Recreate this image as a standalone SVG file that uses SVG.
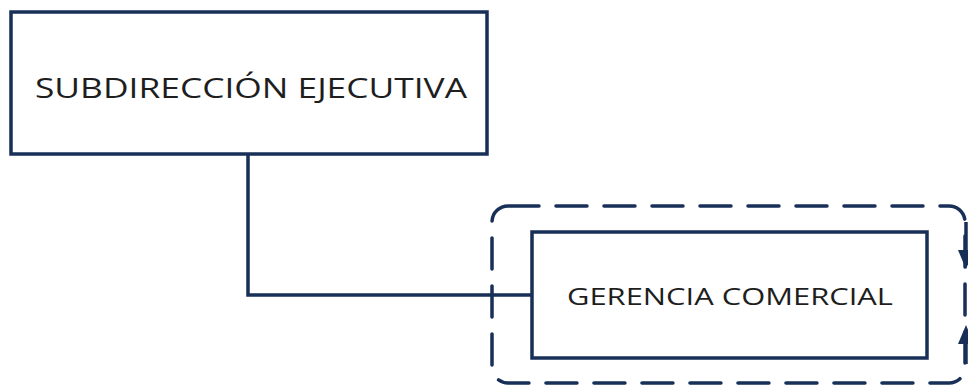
<svg xmlns="http://www.w3.org/2000/svg" width="968" height="387" viewBox="0 0 968 387">
  <style>
    .box { fill: #ffffff; stroke: #182f57; stroke-width: 3.5; }
    .conn { fill: none; stroke: #182f57; stroke-width: 3.5; }
    .dash { fill: none; stroke: #182f57; stroke-width: 3.5; stroke-dasharray: 31 17; stroke-linecap: round; }
    .head { fill: #182f57; }
    .lbl { font-family: "Open Sans", "Liberation Sans", sans-serif; fill: #1e1e1e; text-anchor: middle; }
  </style>
  <rect width="968" height="387" fill="#ffffff"/>
  <g id="connectors">
    <path class="conn" d="M248,154 V295 H532"/>
    <rect class="dash" x="492" y="206" width="473" height="177" rx="16" ry="16"/>
    <line class="conn" x1="966" y1="222" x2="966" y2="256"/>
    <polygon class="head" points="958,250 974,250 966,269"/>
    <line class="conn" x1="966" y1="364" x2="966" y2="336"/>
    <polygon class="head" points="958,344 974,344 966,325"/>
  </g>
  <g id="subdireccion">
    <rect class="box" x="11" y="12" width="476" height="142"/>
    <text class="lbl" x="251" y="98" font-size="27" textLength="432" lengthAdjust="spacingAndGlyphs">SUBDIRECCIÓN EJECUTIVA</text>
  </g>
  <g id="gerencia">
    <rect class="box" x="532" y="232" width="395" height="126"/>
    <text class="lbl" x="730" y="305" font-size="23" textLength="326" lengthAdjust="spacingAndGlyphs">GERENCIA COMERCIAL</text>
  </g>
</svg>
